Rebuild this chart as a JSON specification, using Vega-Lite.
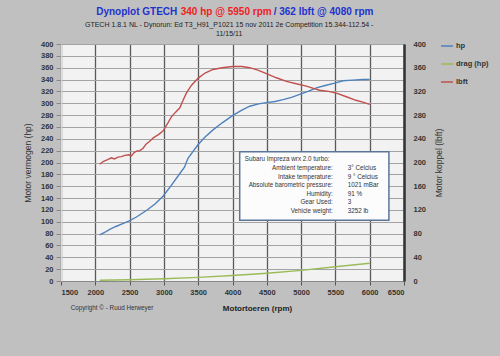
{
  "$schema": "https://vega.github.io/schema/vega-lite/v6.json",
  "width": 343,
  "height": 237,
  "autosize": "none",
  "padding": {"left": 61, "top": 44, "right": 96, "bottom": 75},
  "background": "#c0c0c0",
  "config": {
    "view": {"fill": "#f2f2f2", "stroke": null},
    "font": "Liberation Sans",
    "axisX": {
      "grid": true, "gridColor": "#5a5a5a", "gridWidth": 1.3,
      "domainColor": "#888888", "tickColor": "#555555", "tickSize": 4,
      "labelFontSize": 7.5, "labelFontWeight": "bold", "labelColor": "#333333", "labelPadding": 3, "labelOverlap": false,
      "titleFontSize": 8, "titleFontWeight": "bold", "titleColor": "#222222", "titlePadding": 9
    },
    "axisLeft": {
      "grid": true, "gridColor": "#a3a3a3", "gridWidth": 1.2,
      "domainColor": "#dddddd", "tickColor": "#888888", "tickSize": 5,
      "labelFontSize": 7.5, "labelFontWeight": "bold", "labelColor": "#333333", "labelPadding": 3, "labelOverlap": false,
      "titleFontSize": 8.5, "titleFontWeight": "normal", "titleColor": "#333333", "titlePadding": 8
    },
    "axisRight": {
      "grid": false, "ticks": false,
      "domainColor": "#333333", "domainWidth": 2.5,
      "labelFontSize": 7.5, "labelFontWeight": "bold", "labelColor": "#333333", "labelPadding": 9, "labelOverlap": false,
      "titleFontSize": 8.5, "titleFontWeight": "normal", "titleColor": "#333333", "titlePadding": 18, "titleAngle": 270
    }
  },
  "datasets": {
    "dyno": [
      {"rpm": 2064, "series": "hp", "value": 78},
      {"rpm": 2150, "series": "hp", "value": 83},
      {"rpm": 2211, "series": "hp", "value": 87},
      {"rpm": 2300, "series": "hp", "value": 92},
      {"rpm": 2400, "series": "hp", "value": 97},
      {"rpm": 2487, "series": "hp", "value": 101},
      {"rpm": 2600, "series": "hp", "value": 108},
      {"rpm": 2745, "series": "hp", "value": 119},
      {"rpm": 2870, "series": "hp", "value": 130},
      {"rpm": 2987, "series": "hp", "value": 143},
      {"rpm": 3100, "series": "hp", "value": 160},
      {"rpm": 3230, "series": "hp", "value": 181},
      {"rpm": 3300, "series": "hp", "value": 192},
      {"rpm": 3351, "series": "hp", "value": 207},
      {"rpm": 3420, "series": "hp", "value": 218},
      {"rpm": 3497, "series": "hp", "value": 230},
      {"rpm": 3600, "series": "hp", "value": 243},
      {"rpm": 3716, "series": "hp", "value": 255},
      {"rpm": 3850, "series": "hp", "value": 267},
      {"rpm": 4000, "series": "hp", "value": 279},
      {"rpm": 4130, "series": "hp", "value": 288},
      {"rpm": 4251, "series": "hp", "value": 295},
      {"rpm": 4380, "series": "hp", "value": 299},
      {"rpm": 4494, "series": "hp", "value": 301},
      {"rpm": 4620, "series": "hp", "value": 303},
      {"rpm": 4737, "series": "hp", "value": 306},
      {"rpm": 4860, "series": "hp", "value": 310},
      {"rpm": 4980, "series": "hp", "value": 315},
      {"rpm": 5100, "series": "hp", "value": 320},
      {"rpm": 5223, "series": "hp", "value": 326},
      {"rpm": 5350, "series": "hp", "value": 330},
      {"rpm": 5490, "series": "hp", "value": 334},
      {"rpm": 5611, "series": "hp", "value": 338},
      {"rpm": 5750, "series": "hp", "value": 339},
      {"rpm": 5900, "series": "hp", "value": 340},
      {"rpm": 6000, "series": "hp", "value": 340},
      {"rpm": 2064, "series": "drag (hp)", "value": 1.3},
      {"rpm": 2500, "series": "drag (hp)", "value": 2.2},
      {"rpm": 3000, "series": "drag (hp)", "value": 3.8},
      {"rpm": 3500, "series": "drag (hp)", "value": 6.1},
      {"rpm": 4000, "series": "drag (hp)", "value": 9.2},
      {"rpm": 4500, "series": "drag (hp)", "value": 13.2},
      {"rpm": 5000, "series": "drag (hp)", "value": 18},
      {"rpm": 5500, "series": "drag (hp)", "value": 24},
      {"rpm": 6000, "series": "drag (hp)", "value": 30},
      {"rpm": 2064, "series": "lbft", "value": 197},
      {"rpm": 2120, "series": "lbft", "value": 202},
      {"rpm": 2180, "series": "lbft", "value": 205},
      {"rpm": 2234, "series": "lbft", "value": 208},
      {"rpm": 2280, "series": "lbft", "value": 206},
      {"rpm": 2330, "series": "lbft", "value": 209},
      {"rpm": 2380, "series": "lbft", "value": 210},
      {"rpm": 2430, "series": "lbft", "value": 212},
      {"rpm": 2487, "series": "lbft", "value": 213},
      {"rpm": 2526, "series": "lbft", "value": 211},
      {"rpm": 2560, "series": "lbft", "value": 216},
      {"rpm": 2600, "series": "lbft", "value": 219},
      {"rpm": 2650, "series": "lbft", "value": 220},
      {"rpm": 2697, "series": "lbft", "value": 224},
      {"rpm": 2740, "series": "lbft", "value": 231},
      {"rpm": 2793, "series": "lbft", "value": 236},
      {"rpm": 2850, "series": "lbft", "value": 242},
      {"rpm": 2920, "series": "lbft", "value": 247},
      {"rpm": 2987, "series": "lbft", "value": 253},
      {"rpm": 3050, "series": "lbft", "value": 265},
      {"rpm": 3109, "series": "lbft", "value": 277},
      {"rpm": 3170, "series": "lbft", "value": 285},
      {"rpm": 3230, "series": "lbft", "value": 292},
      {"rpm": 3280, "series": "lbft", "value": 305},
      {"rpm": 3327, "series": "lbft", "value": 317},
      {"rpm": 3400, "series": "lbft", "value": 330},
      {"rpm": 3497, "series": "lbft", "value": 342},
      {"rpm": 3600, "series": "lbft", "value": 351},
      {"rpm": 3716, "series": "lbft", "value": 357},
      {"rpm": 3850, "series": "lbft", "value": 360},
      {"rpm": 4000, "series": "lbft", "value": 362},
      {"rpm": 4080, "series": "lbft", "value": 362},
      {"rpm": 4137, "series": "lbft", "value": 362},
      {"rpm": 4251, "series": "lbft", "value": 360},
      {"rpm": 4370, "series": "lbft", "value": 356},
      {"rpm": 4494, "series": "lbft", "value": 350},
      {"rpm": 4640, "series": "lbft", "value": 343},
      {"rpm": 4786, "series": "lbft", "value": 337},
      {"rpm": 4930, "series": "lbft", "value": 333},
      {"rpm": 5077, "series": "lbft", "value": 329},
      {"rpm": 5180, "series": "lbft", "value": 325},
      {"rpm": 5272, "series": "lbft", "value": 322},
      {"rpm": 5400, "series": "lbft", "value": 320},
      {"rpm": 5515, "series": "lbft", "value": 317},
      {"rpm": 5660, "series": "lbft", "value": 311},
      {"rpm": 5800, "series": "lbft", "value": 305},
      {"rpm": 5900, "series": "lbft", "value": 302},
      {"rpm": 6000, "series": "lbft", "value": 298}
    ]
  },
  "layer": [
    {
      "layer": [
        {
          "data": {"name": "dyno"},
          "transform": [{"filter": "datum.series !== 'lbft'"}],
          "mark": {"type": "line", "strokeWidth": 1.4},
          "encoding": {
            "x": {"field": "rpm", "type": "quantitative", "scale": {"domain": [1500, 6500], "nice": false}, "title": "Motortoeren  (rpm)",
              "axis": {"values": [1500, 2000, 2500, 3000, 3500, 4000, 4500, 5000, 5500, 6000, 6500], "format": "d", "titleX": 196}},
            "y": {"field": "value", "type": "quantitative", "scale": {"domain": [0, 400], "nice": false}, "title": "Motor vermogen (hp)",
              "axis": {"orient": "left", "values": [0, 20, 40, 60, 80, 100, 120, 140, 160, 180, 200, 220, 240, 260, 280, 300, 320, 340, 360, 380, 400], "format": "d"}},
            "color": {
              "field": "series", "type": "nominal",
              "scale": {"domain": ["hp", "drag (hp)", "lbft"], "range": ["#4f81bd", "#9bbb59", "#c0504d"]},
              "legend": {
                "orient": "none", "legendX": 379, "legendY": -5, "title": null,
                "symbolType": "stroke", "symbolSize": 144, "symbolStrokeWidth": 1.5,
                "labelFontSize": 7.5, "labelFontWeight": "bold", "labelColor": "#333333",
                "rowPadding": 7, "labelOffset": 2
              }
            }
          }
        },
        {
          "data": {"values": [{}]},
          "mark": {"type": "rect", "fill": "#fcfcfc", "stroke": "#5b7698", "strokeWidth": 1.5},
          "encoding": {
            "x": {"datum": 4105, "type": "quantitative", "scale": {"domain": [1500, 6500], "nice": false}, "title": "Motortoeren  (rpm)",
              "axis": {"values": [1500, 2000, 2500, 3000, 3500, 4000, 4500, 5000, 5500, 6000, 6500], "format": "d", "titleX": 196}},
            "x2": {"datum": 6280},
            "y": {"datum": 218, "type": "quantitative", "scale": {"domain": [0, 400], "nice": false}, "title": "Motor vermogen (hp)",
              "axis": {"orient": "left", "values": [0, 20, 40, 60, 80, 100, 120, 140, 160, 180, 200, 220, 240, 260, 280, 300, 320, 340, 360, 380, 400], "format": "d"}},
            "y2": {"datum": 102.5}
          }
        },
        {
          "data": {"values": [{}]},
          "mark": {"type": "text", "align": "left", "baseline": "alphabetic", "fontSize": 6.3, "color": "#333333", "text": "Subaru Impreza wrx 2.0 turbo:"},
          "encoding": {
            "x": {"datum": 4178, "type": "quantitative", "scale": {"domain": [1500, 6500], "nice": false}, "title": "Motortoeren  (rpm)",
              "axis": {"values": [1500, 2000, 2500, 3000, 3500, 4000, 4500, 5000, 5500, 6000, 6500], "format": "d", "titleX": 196}},
            "y": {"datum": 202, "type": "quantitative", "scale": {"domain": [0, 400], "nice": false}, "title": "Motor vermogen (hp)",
              "axis": {"orient": "left", "values": [0, 20, 40, 60, 80, 100, 120, 140, 160, 180, 200, 220, 240, 260, 280, 300, 320, 340, 360, 380, 400], "format": "d"}}
          }
        },
        {
          "data": {"values": [{}]},
          "mark": {"type": "text", "align": "right", "baseline": "alphabetic", "fontSize": 6.3, "lineHeight": 8.5, "color": "#333333",
            "text": ["Ambient temperature:", "Intake temperature:", "Absolute barometric pressure:", "Humidity:", "Gear Used:", "Vehicle weight:"]},
          "encoding": {
            "x": {"datum": 5460, "type": "quantitative", "scale": {"domain": [1500, 6500], "nice": false}, "title": "Motortoeren  (rpm)",
              "axis": {"values": [1500, 2000, 2500, 3000, 3500, 4000, 4500, 5000, 5500, 6000, 6500], "format": "d", "titleX": 196}},
            "y": {"datum": 187.3, "type": "quantitative", "scale": {"domain": [0, 400], "nice": false}, "title": "Motor vermogen (hp)",
              "axis": {"orient": "left", "values": [0, 20, 40, 60, 80, 100, 120, 140, 160, 180, 200, 220, 240, 260, 280, 300, 320, 340, 360, 380, 400], "format": "d"}}
          }
        },
        {
          "data": {"values": [{}]},
          "mark": {"type": "text", "align": "left", "baseline": "alphabetic", "fontSize": 6.3, "lineHeight": 8.5, "color": "#333333",
            "text": ["3° Celcius", "9 ° Celcius", "1021  mBar", "91 %", "3", "3252  lb"]},
          "encoding": {
            "x": {"datum": 5679, "type": "quantitative", "scale": {"domain": [1500, 6500], "nice": false}, "title": "Motortoeren  (rpm)",
              "axis": {"values": [1500, 2000, 2500, 3000, 3500, 4000, 4500, 5000, 5500, 6000, 6500], "format": "d", "titleX": 196}},
            "y": {"datum": 187.3, "type": "quantitative", "scale": {"domain": [0, 400], "nice": false}, "title": "Motor vermogen (hp)",
              "axis": {"orient": "left", "values": [0, 20, 40, 60, 80, 100, 120, 140, 160, 180, 200, 220, 240, 260, 280, 300, 320, 340, 360, 380, 400], "format": "d"}}
          }
        },
        {
          "data": {"values": [{}]},
          "mark": {"type": "text", "align": "right", "baseline": "middle", "fontSize": 10, "fontWeight": "bold", "color": "#2233cc", "text": "Dynoplot GTECH"},
          "encoding": {
            "x": {"datum": 3195, "type": "quantitative", "scale": {"domain": [1500, 6500], "nice": false}, "title": "Motortoeren  (rpm)",
              "axis": {"values": [1500, 2000, 2500, 3000, 3500, 4000, 4500, 5000, 5500, 6000, 6500], "format": "d", "titleX": 196}},
            "y": {"datum": 454, "type": "quantitative", "scale": {"domain": [0, 400], "nice": false}, "title": "Motor vermogen (hp)",
              "axis": {"orient": "left", "values": [0, 20, 40, 60, 80, 100, 120, 140, 160, 180, 200, 220, 240, 260, 280, 300, 320, 340, 360, 380, 400], "format": "d"}}
          }
        },
        {
          "data": {"values": [{}]},
          "mark": {"type": "text", "align": "center", "baseline": "middle", "fontSize": 10, "fontWeight": "bold", "color": "#ee2222", "text": "340 hp @ 5950 rpm"},
          "encoding": {
            "x": {"datum": 3908, "type": "quantitative", "scale": {"domain": [1500, 6500], "nice": false}, "title": "Motortoeren  (rpm)",
              "axis": {"values": [1500, 2000, 2500, 3000, 3500, 4000, 4500, 5000, 5500, 6000, 6500], "format": "d", "titleX": 196}},
            "y": {"datum": 454, "type": "quantitative", "scale": {"domain": [0, 400], "nice": false}, "title": "Motor vermogen (hp)",
              "axis": {"orient": "left", "values": [0, 20, 40, 60, 80, 100, 120, 140, 160, 180, 200, 220, 240, 260, 280, 300, 320, 340, 360, 380, 400], "format": "d"}}
          }
        },
        {
          "data": {"values": [{}]},
          "mark": {"type": "text", "align": "left", "baseline": "middle", "fontSize": 10, "fontWeight": "bold", "color": "#2233cc", "text": "/ 362 lbft @ 4080 rpm"},
          "encoding": {
            "x": {"datum": 4600, "type": "quantitative", "scale": {"domain": [1500, 6500], "nice": false}, "title": "Motortoeren  (rpm)",
              "axis": {"values": [1500, 2000, 2500, 3000, 3500, 4000, 4500, 5000, 5500, 6000, 6500], "format": "d", "titleX": 196}},
            "y": {"datum": 454, "type": "quantitative", "scale": {"domain": [0, 400], "nice": false}, "title": "Motor vermogen (hp)",
              "axis": {"orient": "left", "values": [0, 20, 40, 60, 80, 100, 120, 140, 160, 180, 200, 220, 240, 260, 280, 300, 320, 340, 360, 380, 400], "format": "d"}}
          }
        },
        {
          "data": {"values": [{}]},
          "mark": {"type": "text", "align": "center", "baseline": "middle", "fontSize": 7, "lineHeight": 9, "color": "#222222",
            "text": ["GTECH 1.8.1 NL   -   Dynorun: Ed T3_H91_P1021 15 nov 2011 2e Competition 15.344-112.54   -", "11/15/11"]},
          "encoding": {
            "x": {"datum": 3952, "type": "quantitative", "scale": {"domain": [1500, 6500], "nice": false}, "title": "Motortoeren  (rpm)",
              "axis": {"values": [1500, 2000, 2500, 3000, 3500, 4000, 4500, 5000, 5500, 6000, 6500], "format": "d", "titleX": 196}},
            "y": {"datum": 432, "type": "quantitative", "scale": {"domain": [0, 400], "nice": false}, "title": "Motor vermogen (hp)",
              "axis": {"orient": "left", "values": [0, 20, 40, 60, 80, 100, 120, 140, 160, 180, 200, 220, 240, 260, 280, 300, 320, 340, 360, 380, 400], "format": "d"}}
          }
        },
        {
          "data": {"values": [{}]},
          "mark": {"type": "text", "align": "left", "baseline": "middle", "fontSize": 6.3, "color": "#333333", "text": "Copyright © - Ruud Herweyer"},
          "encoding": {
            "x": {"datum": 1641, "type": "quantitative", "scale": {"domain": [1500, 6500], "nice": false}, "title": "Motortoeren  (rpm)",
              "axis": {"values": [1500, 2000, 2500, 3000, 3500, 4000, 4500, 5000, 5500, 6000, 6500], "format": "d", "titleX": 196}},
            "y": {"datum": -45.6, "type": "quantitative", "scale": {"domain": [0, 400], "nice": false}, "title": "Motor vermogen (hp)",
              "axis": {"orient": "left", "values": [0, 20, 40, 60, 80, 100, 120, 140, 160, 180, 200, 220, 240, 260, 280, 300, 320, 340, 360, 380, 400], "format": "d"}}
          }
        }
      ]
    },
    {
      "data": {"name": "dyno"},
      "transform": [{"filter": "datum.series === 'lbft'"}],
      "mark": {"type": "line", "strokeWidth": 1.4},
      "encoding": {
        "x": {"field": "rpm", "type": "quantitative", "scale": {"domain": [1500, 6500], "nice": false}, "title": "Motortoeren  (rpm)",
          "axis": {"values": [1500, 2000, 2500, 3000, 3500, 4000, 4500, 5000, 5500, 6000, 6500], "format": "d", "titleX": 196}},
        "y": {
          "field": "value", "type": "quantitative",
          "scale": {"domain": [0, 400], "nice": false},
          "title": "Motor koppel (lbft)",
          "axis": {"orient": "right", "values": [0, 40, 80, 120, 160, 200, 240, 280, 320, 360, 400], "format": "d", "grid": false}
        },
        "color": {"field": "series", "type": "nominal", "scale": {"domain": ["hp", "drag (hp)", "lbft"], "range": ["#4f81bd", "#9bbb59", "#c0504d"]}}
      }
    }
  ],
  "resolve": {"scale": {"y": "independent"}}
}
